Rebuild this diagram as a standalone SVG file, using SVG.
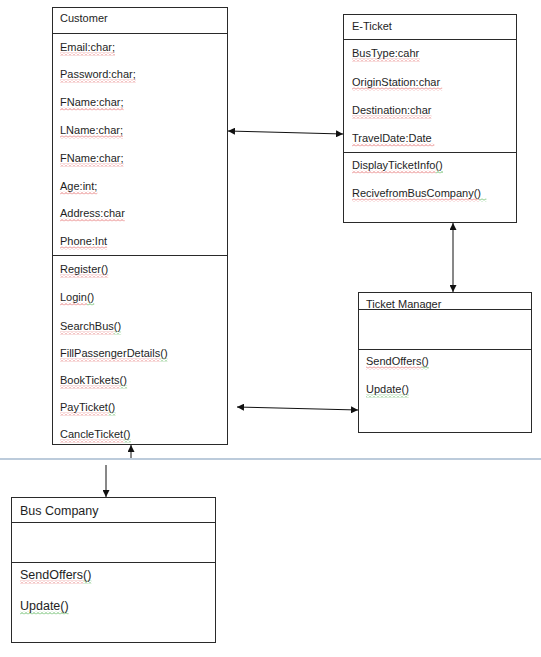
<svg xmlns="http://www.w3.org/2000/svg" width="541" height="657" viewBox="0 0 541 657">
<defs>
<style>
.box{fill:#fff;stroke:#2a2a2a;stroke-width:1}
.sep{stroke:#2a2a2a;stroke-width:1}
.t{font-family:"Liberation Sans",Arial,sans-serif;font-size:11px;fill:#1e1e1e}
.b{font-size:12.5px}
.r{fill:url(#wr)}
.g{fill:url(#wg)}
.c{stroke:#111;stroke-width:1;fill:none}
</style>
<pattern id="wr" width="4" height="3" patternUnits="userSpaceOnUse">
<path d="M0,2.5 L2,0.5 L4,2.5" fill="none" stroke="#e05a5a" stroke-width="0.8"/>
</pattern>
<pattern id="wg" width="4" height="3" patternUnits="userSpaceOnUse">
<path d="M0,2.5 L2,0.5 L4,2.5" fill="none" stroke="#3ea83e" stroke-width="0.8"/>
</pattern>
<marker id="ah" viewBox="0 0 8 8" refX="8" refY="4" markerWidth="7" markerHeight="7" markerUnits="userSpaceOnUse" orient="auto-start-reverse">
<path d="M0,0 L8,4 L0,8 z" fill="#111"/>
</marker>
</defs>
<line x1="0" y1="459" x2="541" y2="459" stroke="#bccbdb" stroke-width="2"/>
<g id="customer">
<rect class="box" x="52.5" y="7.5" width="175" height="437"/>
<line class="sep" x1="52.5" y1="33.5" x2="227.5" y2="33.5"/>
<line class="sep" x1="52.5" y1="255.5" x2="227.5" y2="255.5"/>
<rect class="r" x="60" y="52.5" width="55" height="3"/>
<rect class="r" x="60" y="79.5" width="75.8" height="3"/>
<rect class="r" x="60" y="107.5" width="63.6" height="3"/>
<rect class="r" x="60" y="135.5" width="63" height="3"/>
<rect class="r" x="60" y="163.5" width="63.6" height="3"/>
<rect class="r" x="60" y="191.5" width="37.3" height="3"/>
<rect class="r" x="60" y="218.5" width="64.8" height="3"/>
<rect class="r" x="60" y="246.5" width="47.1" height="3"/>
<rect class="r" x="60" y="274.5" width="48.3" height="3"/>
<rect class="r" x="60" y="302.5" width="26.9" height="3"/>
<rect class="g" x="86.9" y="302.5" width="7.3" height="3"/>
<rect class="r" x="60" y="331.5" width="53.8" height="3"/>
<rect class="g" x="113.8" y="331.5" width="7.3" height="3"/>
<rect class="r" x="60" y="358.5" width="100.2" height="3"/>
<rect class="g" x="160.2" y="358.5" width="7.3" height="3"/>
<rect class="r" x="60" y="385.5" width="59.9" height="3"/>
<rect class="g" x="119.9" y="385.5" width="7.3" height="3"/>
<rect class="r" x="60" y="412.5" width="48.3" height="3"/>
<rect class="g" x="108.3" y="412.5" width="7.3" height="3"/>
<rect class="r" x="60" y="439.5" width="63.6" height="3"/>
<rect class="g" x="123.6" y="439.5" width="7.3" height="3"/>
<text class="t" x="60" y="22">Customer</text>
<text class="t" x="60" y="51">Email:char;</text>
<text class="t" x="60" y="78">Password:char;</text>
<text class="t" x="60" y="106">FName:char;</text>
<text class="t" x="60" y="134">LName:char;</text>
<text class="t" x="60" y="162">FName:char;</text>
<text class="t" x="60" y="190">Age:int;</text>
<text class="t" x="60" y="217">Address:char</text>
<text class="t" x="60" y="245">Phone:Int</text>
<text class="t" x="60" y="273">Register()</text>
<text class="t" x="60" y="301">Login()</text>
<text class="t" x="60" y="330">SearchBus()</text>
<text class="t" x="60" y="357">FillPassengerDetails()</text>
<text class="t" x="60" y="384">BookTickets()</text>
<text class="t" x="60" y="411">PayTicket()</text>
<text class="t" x="60" y="438">CancleTicket()</text>
</g>
<g id="eticket">
<rect class="box" x="343.5" y="14.5" width="173" height="208"/>
<line class="sep" x1="343.5" y1="39.5" x2="516.5" y2="39.5"/>
<line class="sep" x1="343.5" y1="152.5" x2="516.5" y2="152.5"/>
<rect class="r" x="352" y="58.5" width="67.9" height="3"/>
<rect class="r" x="352" y="87.5" width="90.2" height="3"/>
<rect class="r" x="352" y="115.5" width="79.5" height="3"/>
<rect class="r" x="352" y="143.5" width="82.3" height="3"/>
<rect class="r" x="352" y="170.5" width="83.7" height="3"/>
<rect class="g" x="435.7" y="170.5" width="7.3" height="3"/>
<rect class="r" x="352" y="198.5" width="127.1" height="3"/>
<rect class="g" x="479.1" y="198.5" width="7.3" height="3"/>
<text class="t" x="352" y="30">E-Ticket</text>
<text class="t" x="352" y="57">BusType:cahr</text>
<text class="t" x="352" y="86">OriginStation:char</text>
<text class="t" x="352" y="114">Destination:char</text>
<text class="t" x="352" y="142">TravelDate:Date</text>
<text class="t" x="352" y="169">DisplayTicketInfo()</text>
<text class="t" x="352" y="197">RecivefromBusCompany()</text>
</g>
<g id="ticketmanager">
<rect class="box" x="358.5" y="292.5" width="173" height="140"/>
<line class="sep" x1="358.5" y1="309.5" x2="531.5" y2="309.5"/>
<line class="sep" x1="358.5" y1="349.5" x2="531.5" y2="349.5"/>
<rect class="r" x="366" y="366.5" width="55.6" height="3"/>
<rect class="g" x="421.6" y="366.5" width="7.3" height="3"/>
<rect class="g" x="366" y="394.5" width="42.8" height="3"/>
<text class="t" x="366" y="307.5">Ticket Manager</text>
<text class="t" x="366" y="365">SendOffers()</text>
<text class="t" x="366" y="393">Update()</text>
</g>
<g id="buscompany">
<rect class="box" x="11.5" y="497.5" width="204" height="145"/>
<line class="sep" x1="11.5" y1="522.5" x2="215.5" y2="522.5"/>
<line class="sep" x1="11.5" y1="562.5" x2="215.5" y2="562.5"/>
<rect class="r" x="20" y="580.5" width="63.2" height="3"/>
<rect class="g" x="83.2" y="580.5" width="8.3" height="3"/>
<rect class="g" x="20" y="611.5" width="48.6" height="3"/>
<text class="t b" x="20" y="515">Bus Company</text>
<text class="t b" x="20" y="579">SendOffers()</text>
<text class="t b" x="20" y="610">Update()</text>
</g>
<g id="connectors">
<line class="c" x1="228" y1="131" x2="343" y2="134" marker-start="url(#ah)" marker-end="url(#ah)"/>
<line class="c" x1="453" y1="223" x2="453" y2="292" marker-start="url(#ah)" marker-end="url(#ah)"/>
<line class="c" x1="237" y1="407" x2="358" y2="410" marker-start="url(#ah)" marker-end="url(#ah)"/>
<line class="c" x1="131" y1="458" x2="131" y2="445" marker-end="url(#ah)"/>
<line class="c" x1="106" y1="465" x2="106" y2="497" marker-end="url(#ah)"/>
</g>
</svg>
